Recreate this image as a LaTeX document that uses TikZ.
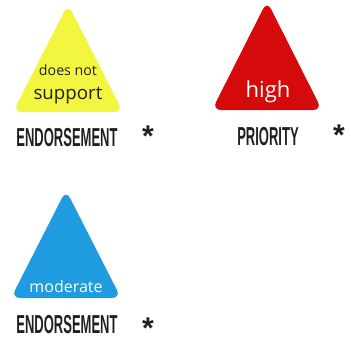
\documentclass[tikz,border=0pt]{standalone}
\usepackage{fontspec}
\setmainfont{Open Sans}
\newfontfamily\labelfont[FakeStretch=0.5]{Liberation Sans}
\newfontfamily\starfont{Liberation Sans}
\usetikzlibrary{positioning}
\definecolor{warnyellow}{HTML}{F3F63F}
\definecolor{warnred}{HTML}{D50B0B}
\definecolor{warnblue}{HTML}{1F9CE0}
\definecolor{inkdark}{HTML}{231F20}
\tikzstyle{sign} = [rounded corners=9pt, line join=round]
\tikzstyle{caption} = [inner sep=0pt, text=inkdark, font=\labelfont\bfseries\fontsize{26}{26}\selectfont]
\tikzstyle{star} = [inner sep=0pt, anchor=base, text=inkdark, font=\starfont\bfseries\fontsize{30}{30}\selectfont]
% asterisk centred on its baseline
\newcommand{\starglyph}{\smash{\raisebox{-16.8pt}{*}}}

\begin{document}
\begin{tikzpicture}[x=1pt, y=-1pt]
	\useasboundingbox (0,0) rectangle (351,338);

	% yellow sign
	\fill[sign, warnyellow] (68,4) -- (123,112) -- (13,112) -- cycle;
	\node[inner sep=0pt, text=inkdark, font=\fontsize{14.2}{14}\selectfont] (dn) at (68,70) {does not};
	\node[inner sep=0pt, text=inkdark, font=\fontsize{18.7}{18}\selectfont] (sup) at (68,96) {support};
	\node[caption] (E1) at (67,137.5) {ENDORSEMENT};
	\node[star] (s1) at (148,130) {\starglyph};

	% red sign
	\fill[sign, warnred] (267,1) -- (322,110) -- (212,110) -- cycle;
	\node[inner sep=0pt, text=white, font=\fontsize{22}{22}\selectfont] (hi) at (268,92) {high};
	\node[caption] (P) at (268,136.5) {PRIORITY};
	\node[star] (s2) at (339,129) {\starglyph};

	% blue sign
	\fill[sign, warnblue] (66,190) -- (121,298) -- (11,298) -- cycle;
	\node[inner sep=0pt, text=white, font=\fontsize{16}{16}\selectfont] (mod) at (66,286) {moderate};
	\node[caption] (E2) at (67,325) {ENDORSEMENT};
	\node[star] (s3) at (148,321.5) {\starglyph};

\end{tikzpicture}
\end{document}
